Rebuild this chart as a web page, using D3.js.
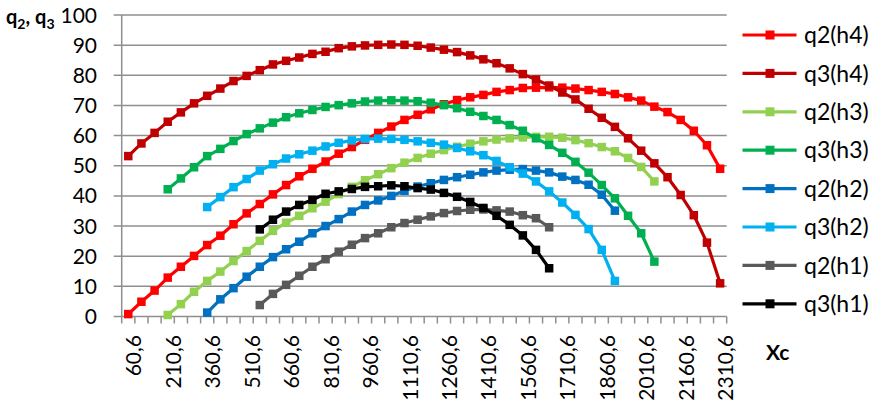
<!DOCTYPE html>
<html>
<head>
<meta charset="utf-8">
<script src="https://cdn.jsdelivr.net/npm/d3@7/dist/d3.min.js"></script>
<style>
	body { margin: 0; background: #fff; }
	svg { display: block; font-family: Lato, "Open Sans", sans-serif; }
</style>
</head>
<body>
<svg id="chart" width="885" height="404"></svg>
<script>
// ================= data =================
const categories = [
	"60,6", "110,6", "160,6", "210,6", "260,6", "310,6", "360,6", "410,6", "460,6", "510,6",
	"560,6", "610,6", "660,6", "710,6", "760,6", "810,6", "860,6", "910,6", "960,6", "1010,6",
	"1060,6", "1110,6", "1160,6", "1210,6", "1260,6", "1310,6", "1360,6", "1410,6", "1460,6", "1510,6",
	"1560,6", "1610,6", "1660,6", "1710,6", "1760,6", "1810,6", "1860,6", "1910,6", "1960,6", "2010,6",
	"2060,6", "2110,6", "2160,6", "2210,6", "2260,6", "2310,6"
];
const tickLabels = [
	"60,6", "210,6", "360,6", "510,6", "660,6", "810,6", "960,6", "1110,6",
	"1260,6", "1410,6", "1560,6", "1710,6", "1860,6", "2010,6", "2160,6", "2310,6"
];
const yTicks = [0, 10, 20, 30, 40, 50, 60, 70, 80, 90, 100];

const seriesNames = ["q2(h4)", "q3(h4)", "q2(h3)", "q3(h3)", "q2(h2)", "q3(h2)", "q2(h1)", "q3(h1)"];
// first category of each series
const seriesStart = ["60,6", "60,6", "210,6", "210,6", "360,6", "360,6", "560,6", "560,6"];

const q2h4 = [0.8, 4.9, 8.6, 12.9, 16.5, 20.1, 23.7, 26.8, 30.6, 34.2,
	37.3, 40.5, 43.6, 46.5, 49.0, 51.4, 54.0, 56.2, 58.6, 60.9,
	63.0, 65.2, 66.9, 68.7, 70.4, 71.8, 72.7, 73.5, 74.5, 75.1,
	75.8, 75.9, 76.0, 75.9, 75.6, 75.1, 74.5, 73.8, 72.7, 71.6,
	69.6, 67.8, 65.2, 61.6, 56.8, 49.0];
const q3h4 = [53.2, 57.4, 60.9, 64.6, 67.7, 70.7, 73.2, 75.6, 78.1, 79.8,
	81.7, 83.6, 84.8, 85.9, 87.1, 87.8, 89.0, 89.6, 89.9, 90.1,
	90.2, 90.1, 89.8, 89.2, 88.5, 87.7, 86.6, 85.3, 84.0, 82.3,
	80.4, 78.6, 76.6, 74.3, 72.0, 68.9, 65.9, 62.9, 59.1, 55.0,
	50.8, 46.2, 40.3, 33.6, 24.5, 11.0];
const q2h3 = [0.5, 4.1, 8.2, 11.8, 14.9, 18.4, 21.7, 25.1, 28.4, 31.1, 33.4, 35.9, 38.1,
	40.6, 43.0, 45.2, 47.2, 49.2, 51.0, 52.6, 54.0, 55.2, 56.3, 57.3, 58.1, 58.7, 59.1, 59.4,
	59.6, 59.6, 59.3, 58.5, 57.5, 56.2, 54.8, 52.6, 49.6, 44.8];
const q3h3 = [42.2, 45.8, 49.5, 53.2, 55.6, 58.2, 60.5, 62.4, 64.3, 66.1, 67.4, 68.5, 69.5,
	70.1, 70.7, 71.3, 71.6, 71.7, 71.6, 71.4, 70.9, 70.1, 69.1, 67.9, 66.5, 65.2, 63.5, 61.6,
	59.1, 56.9, 54.3, 51.3, 47.7, 43.6, 39.2, 33.4, 27.6, 18.2];
const q2h2 = [1.3, 5.7, 9.4, 13.2, 16.5, 19.7, 22.3, 24.8, 27.6, 30.0,
	32.3, 34.8, 37.0, 38.5, 40.0, 41.7, 43.1, 44.2, 45.3, 46.2, 47.0, 47.8, 48.4, 48.7, 48.9,
	48.4, 47.8, 46.4, 45.3, 43.7, 40.4, 35.1];
const q3h2 = [36.3, 39.6, 42.9, 45.6, 48.4, 50.5, 52.4, 53.8, 55.0, 56.4,
	57.6, 58.4, 58.9, 59.0, 58.9, 58.6, 58.1, 57.6, 57.0, 55.9, 54.8, 53.5, 51.6, 49.5, 47.4,
	44.8, 41.5, 37.8, 33.7, 29.0, 22.1, 11.8];
const q2h1 = [3.8, 7.5, 10.5, 13.5, 16.5, 19.0, 21.5, 23.8, 26.0, 27.6, 29.6, 31.0,
	32.1, 33.2, 34.3, 35.0, 35.4, 35.5, 35.2, 34.8, 33.6, 32.6, 29.6];
const q3h1 = [28.9, 32.1, 34.8, 37.0, 38.7, 40.7, 41.5, 42.3, 43.0, 43.2, 43.5, 43.2,
	42.6, 42.1, 41.0, 39.7, 38.0, 36.0, 33.4, 30.4, 26.9, 22.1, 16.0];

const seriesValues = [q2h4, q3h4, q2h3, q3h3, q2h2, q3h2, q2h1, q3h1];

// ================= chart =================
const colors = ["#ff0000", "#c00000", "#92d050", "#00b050", "#0070c0", "#00b0f0", "#595959", "#000000"];
const gridColor = "#8f8f8f";

const svg = d3.select("#chart");

const x = d3.scaleBand()
	.domain(categories)
	.range([121.7, 726.7]);

const y = d3.scaleLinear()
	.domain([0, 100])
	.range([316.5, 15]);

const color = d3.scaleOrdinal()
	.domain(seriesNames)
	.range(colors);

const x0 = x.range()[0], x1 = x.range()[1], y0 = y(0);

// 가로 눈금선 + 왼쪽 틱
svg.append("g")
	.selectAll("line")
	.data(yTicks)
	.join("line")
	.attr("x1", x0 - 8)
	.attr("x2", x1)
	.attr("y1", d => y(d))
	.attr("y2", d => y(d))
	.attr("stroke", gridColor)
	.attr("stroke-width", 1.5);

// 세로축
svg.append("line")
	.attr("x1", x0).attr("x2", x0)
	.attr("y1", y(100)).attr("y2", y0)
	.attr("stroke", gridColor)
	.attr("stroke-width", 1.5);

// y축 라벨
svg.append("g")
	.selectAll("text")
	.data(yTicks)
	.join("text")
	.attr("x", 97)
	.attr("y", d => y(d))
	.attr("dy", "0.36em")
	.attr("text-anchor", "end")
	.style("font-size", "21px")
	.text(d => d);

// x축 카테고리 경계 틱
svg.append("g")
	.selectAll("line")
	.data(categories.map(c => x(c)).concat([x1]))
	.join("line")
	.attr("x1", d => d).attr("x2", d => d)
	.attr("y1", y0).attr("y2", y0 + 7)
	.attr("stroke", gridColor)
	.attr("stroke-width", 1.5);

// x축 라벨 (세로)
svg.append("g")
	.selectAll("text")
	.data(tickLabels)
	.join("text")
	.attr("transform", d => `translate(${x(d) + x.bandwidth() / 2},335) rotate(-90)`)
	.attr("dy", "0.62em")
	.attr("text-anchor", "end")
	.style("font-size", "21px")
	.text(d => d);

// 시리즈
const line = d3.line()
	.x(d => x(d.cat) + x.bandwidth() / 2)
	.y(d => y(d.v));

seriesNames.forEach((name, s) => {
	const start = categories.indexOf(seriesStart[s]);
	const pts = seriesValues[s].map((v, k) => ({ cat: categories[start + k], v: v }));

	const g = svg.append("g").attr("class", "series");

	g.append("path")
		.datum(pts)
		.attr("d", line)
		.attr("fill", "none")
		.attr("stroke", color(name))
		.attr("stroke-width", 3.2)
		.attr("stroke-linejoin", "round");

	g.selectAll("rect")
		.data(pts)
		.join("rect")
		.attr("x", d => x(d.cat) + x.bandwidth() / 2 - 4.25)
		.attr("y", d => y(d.v) - 4.25)
		.attr("width", 8.5)
		.attr("height", 8.5)
		.attr("fill", color(name));
});

// 범례
const legend = svg.append("g")
	.selectAll("g")
	.data(seriesNames)
	.join("g")
	.attr("transform", (d, i) => `translate(0,${35 + i * 38.4})`);

legend.append("line")
	.attr("x1", 742.5).attr("x2", 796.5)
	.attr("stroke", d => color(d))
	.attr("stroke-width", 3.2);

legend.append("rect")
	.attr("x", 765.5).attr("y", -4.5)
	.attr("width", 9).attr("height", 9)
	.attr("fill", d => color(d));

legend.append("text")
	.attr("x", 804)
	.attr("dy", "0.36em")
	.style("font-size", "23px")
	.text(d => d);

// 축 제목
const title = svg.append("text")
	.attr("x", 6)
	.attr("y", 24)
	.style("font-size", "20px")
	.style("font-weight", "bold");
title.append("tspan").text("q");
title.append("tspan").attr("dy", 5).style("font-size", "14px").text("2");
title.append("tspan").attr("dy", -5).text(", q");
title.append("tspan").attr("dy", 5).style("font-size", "14px").text("3");

svg.append("text")
	.attr("x", 766)
	.attr("y", 360)
	.style("font-size", "21px")
	.style("font-weight", "bold")
	.text("Xc");
</script>
</body>
</html>
